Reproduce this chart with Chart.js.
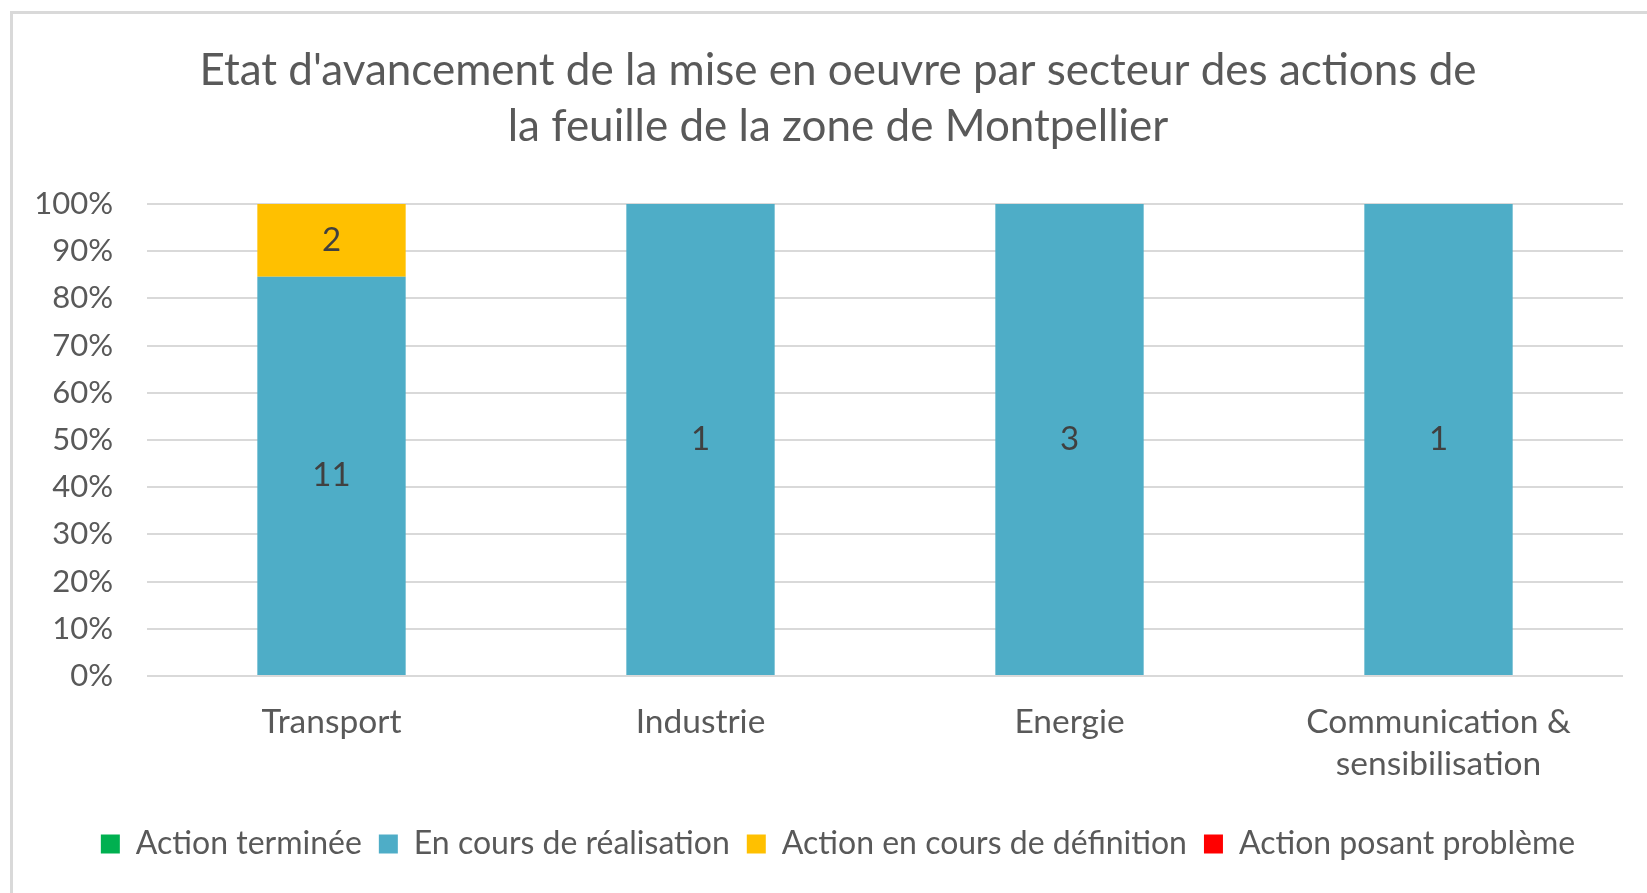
<!DOCTYPE html>
<html>
<head>
<meta charset="utf-8">
<script src="https://cdn.jsdelivr.net/npm/chart.js@4.4.1/dist/chart.umd.min.js"></script>
<style>
  html, body { margin: 0; padding: 0; background: #fff; overflow: hidden; }
  #wrap { position: absolute; left: 0; top: 0; width: 1647px; height: 893px; }
  #frame { position: absolute; left: 10px; top: 11px; width: 1700px; height: 950px;
           border: 3px solid #d9d9d9; box-sizing: border-box; pointer-events: none; }
</style>
</head>
<body>
<div id="wrap">
  <canvas id="chartAvancement" width="1647" height="893"></canvas>
  <div id="frame"></div>
</div>
<script>
// données (nombre d'actions par secteur)
const categories = ['Transport', 'Industrie', 'Energie', ['Communication &', 'sensibilisation']];
const seriesNames = ['Action terminée', 'En cours de réalisation', 'Action en cours de définition', 'Action posant problème'];
const seriesColors = ['#00b050', '#4eadc7', '#ffc000', '#ff0000'];
const actionTerminee = [0, 0, 0, 0];
const enCours = [11, 1, 3, 1];
const enDefinition = [2, 0, 0, 0];
const posantProbleme = [0, 0, 0, 0];
const yTickValues = [0, 10, 20, 30, 40, 50, 60, 70, 80, 90, 100];

const counts = [actionTerminee, enCours, enDefinition, posantProbleme];
const totals = categories.map((_, i) => counts.reduce((s, arr) => s + arr[i], 0));

const FONT = 'Lato, "Open Sans", sans-serif';
const GREY = '#595959';

// étiquettes de données (nombre d'actions au centre de chaque segment)
const countLabels = {
  id: 'countLabels',
  afterDatasetsDraw(chart) {
    const ctx = chart.ctx;
    ctx.save();
    ctx.font = '33px ' + FONT;
    ctx.fillStyle = '#404040';
    ctx.textAlign = 'center';
    ctx.textBaseline = 'middle';
    chart.data.datasets.forEach((ds, di) => {
      const meta = chart.getDatasetMeta(di);
      meta.data.forEach((bar, i) => {
        const n = ds.counts[i];
        if (!n) return;
        ctx.fillText(String(n), bar.x, (bar.y + bar.base) / 2);
      });
    });
    ctx.restore();
  }
};

new Chart(document.getElementById('chartAvancement'), {
  type: 'bar',
  data: {
    labels: categories,
    datasets: seriesNames.map((name, k) => ({
      label: name,
      counts: counts[k],
      data: counts[k].map((v, i) => totals[i] ? v / totals[i] * 100 : 0),
      backgroundColor: seriesColors[k],
      borderWidth: 0,
      barPercentage: 0.402,
      categoryPercentage: 1
    }))
  },
  options: {
    responsive: false,
    animation: false,
    layout: { padding: { left: 29, right: 0, top: 0, bottom: 23 } },
    scales: {
      x: {
        stacked: true,
        grid: { display: false, drawTicks: false },
        border: { display: false },
        ticks: { color: GREY, font: { family: FONT, size: 33.5, lineHeight: 1.25 }, padding: 25, maxRotation: 0 },
        afterFit(scale) { scale.height = 135; }
      },
      y: {
        stacked: true,
        min: 0,
        max: 100,
        afterBuildTicks(scale) { scale.ticks = yTickValues.map(v => ({ value: v })); },
        grid: { color: '#d9d9d9', lineWidth: 2, drawTicks: false },
        border: { display: false },
        ticks: { color: GREY, font: { family: FONT, size: 31 }, padding: 34, callback: v => v + '%' },
        afterFit(scale) { scale.width = 118; }
      },
      // axe vide à droite : garde la zone de tracé à 1623 px
      yRight: {
        position: 'right',
        display: true,
        grid: { display: false, drawTicks: false },
        border: { display: false },
        ticks: { display: false },
        afterFit(scale) { scale.width = 24; }
      }
    },
    plugins: {
      title: {
        display: true,
        text: ["Etat d'avancement de la mise en oeuvre par secteur des actions de",
               'la feuille de la zone de Montpellier'],
        color: GREY,
        font: { family: FONT, size: 44, weight: 'normal', lineHeight: 1.273 },
        padding: { top: 43, bottom: 49 }
      },
      legend: {
        position: 'bottom',
        labels: {
          color: GREY,
          font: { family: FONT, size: 32 },
          boxWidth: 19,
          boxHeight: 19,
          padding: 17
        }
      },
      tooltip: { enabled: false }
    }
  },
  plugins: [countLabels]
});
</script>
</body>
</html>
